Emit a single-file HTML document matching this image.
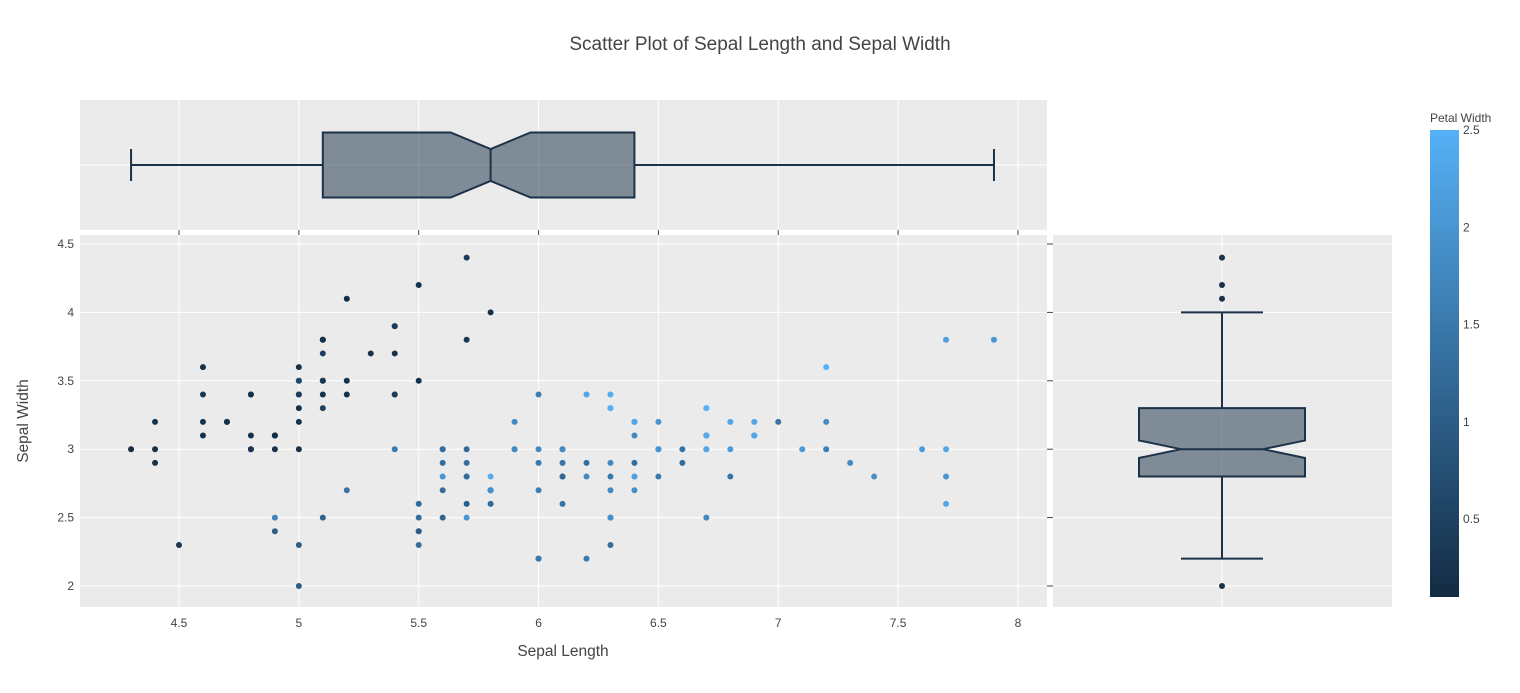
<!DOCTYPE html>
<html><head><meta charset="utf-8"><style>
body{margin:0;background:#fff;font-family:"Liberation Sans",sans-serif}
svg text{font-family:"Liberation Sans",sans-serif;fill:#444}
</style></head><body>
<svg id="c" width="1520" height="688" xmlns="http://www.w3.org/2000/svg">
<defs><linearGradient id="cg" x1="0" y1="1" x2="0" y2="0"><stop offset="0" stop-color="#132B43"/><stop offset="1" stop-color="#56B1F7"/></linearGradient></defs>
<text x="760" y="50" font-size="19" text-anchor="middle">Scatter Plot of Sepal Length and Sepal Width</text>
<g id="g"></g>
</svg>
<script>
const sepalLength=[5.1,4.9,4.7,4.6,5.0,5.4,4.6,5.0,4.4,4.9,5.4,4.8,4.8,4.3,5.8,5.7,5.4,5.1,5.7,5.1,5.4,5.1,4.6,5.1,4.8,5.0,5.0,5.2,5.2,4.7,4.8,5.4,5.2,5.5,4.9,5.0,5.5,4.9,4.4,5.1,5.0,4.5,4.4,5.0,5.1,4.8,5.1,4.6,5.3,5.0,
7.0,6.4,6.9,5.5,6.5,5.7,6.3,4.9,6.6,5.2,5.0,5.9,6.0,6.1,5.6,6.7,5.6,5.8,6.2,5.6,5.9,6.1,6.3,6.1,6.4,6.6,6.8,6.7,6.0,5.7,5.5,5.5,5.8,6.0,5.4,6.0,6.7,6.3,5.6,5.5,5.5,6.1,5.8,5.0,5.6,5.7,5.7,6.2,5.1,5.7,
6.3,5.8,7.1,6.3,6.5,7.6,4.9,7.3,6.7,7.2,6.5,6.4,6.8,5.7,5.8,6.4,6.5,7.7,7.7,6.0,6.9,5.6,7.7,6.3,6.7,7.2,6.2,6.1,6.4,7.2,7.4,7.9,6.4,6.3,6.1,7.7,6.3,6.4,6.0,6.9,6.7,6.9,5.8,6.8,6.7,6.7,6.3,6.5,6.2,5.9];
const sepalWidth=[3.5,3.0,3.2,3.1,3.6,3.9,3.4,3.4,2.9,3.1,3.7,3.4,3.0,3.0,4.0,4.4,3.9,3.5,3.8,3.8,3.4,3.7,3.6,3.3,3.4,3.0,3.4,3.5,3.4,3.2,3.1,3.4,4.1,4.2,3.1,3.2,3.5,3.1,3.0,3.4,3.5,2.3,3.2,3.5,3.8,3.0,3.8,3.2,3.7,3.3,
3.2,3.2,3.1,2.3,2.8,2.8,3.3,2.4,2.9,2.7,2.0,3.0,2.2,2.9,2.9,3.1,3.0,2.7,2.2,2.5,3.2,2.8,2.5,2.8,2.9,3.0,2.8,3.0,2.9,2.6,2.4,2.4,2.7,2.7,3.0,3.4,3.1,2.3,3.0,2.5,2.6,3.0,2.6,2.3,2.7,3.0,2.9,2.9,2.5,2.8,
3.3,2.7,3.0,2.9,3.0,3.0,2.5,2.9,2.5,3.6,3.2,2.7,3.0,2.5,2.8,3.2,3.0,3.8,2.6,2.2,3.2,2.8,2.8,2.7,3.3,3.2,2.8,3.0,2.8,3.0,2.8,3.8,2.8,2.8,2.6,3.0,3.4,3.1,3.0,3.1,3.1,3.1,2.7,3.2,3.3,3.0,2.5,3.0,3.4,3.0];
const petalWidth=[0.2,0.2,0.2,0.2,0.2,0.4,0.3,0.2,0.2,0.1,0.2,0.2,0.1,0.1,0.2,0.4,0.4,0.3,0.3,0.3,0.2,0.4,0.2,0.5,0.2,0.2,0.4,0.2,0.2,0.2,0.2,0.4,0.1,0.2,0.1,0.2,0.2,0.1,0.2,0.2,0.3,0.3,0.2,0.6,0.4,0.3,0.2,0.2,0.2,0.2,
1.4,1.5,1.5,1.3,1.5,1.3,1.6,1.0,1.3,1.4,1.0,1.5,1.0,1.4,1.3,1.4,1.5,1.0,1.5,1.1,1.8,1.3,1.5,1.2,1.3,1.4,1.4,1.7,1.5,1.0,1.1,1.0,1.2,1.6,1.5,1.6,1.5,1.3,1.3,1.3,1.2,1.4,1.2,1.0,1.3,1.2,1.3,1.3,1.1,1.3,
2.5,1.9,2.1,1.8,2.2,2.1,1.7,1.8,1.8,2.5,2.0,1.9,2.1,2.0,2.4,2.3,1.8,2.2,2.3,1.5,2.3,2.0,2.0,1.8,2.1,1.8,1.8,1.8,2.1,1.6,1.9,2.0,2.2,1.5,1.4,2.3,2.4,1.8,1.8,2.1,2.4,2.3,1.9,2.3,2.5,2.3,1.9,2.0,2.3,1.8];
const xTicks=[4.5,5,5.5,6,6.5,7,7.5,8];
const yTicks=[2,2.5,3,3.5,4,4.5];
const cTicks=[0.5,1,1.5,2,2.5];

const NS="http://www.w3.org/2000/svg",G=document.getElementById('g');
function el(t,a,name,p){const e=document.createElementNS(NS,t);for(const k in a)e.setAttribute(k,a[k]);


(p||G).appendChild(e);return e;}
const X=v=>179+(v-4.5)*239.7, Y=v=>586-(v-2)*136.8;
const cmin=0.1,cmax=2.5;
const CB=v=>597-(v-cmin)/(cmax-cmin)*467;
function col(v){const t=Math.max(0,Math.min(1,(v-cmin)/(cmax-cmin)));const a=[19,43,67],b=[86,177,247];return `rgb(${a.map((c,i)=>Math.round(c+(b[i]-c)*t)).join(',')})`;}
function q(a,p){const s=[...a].sort((x,y)=>x-y),n=s.length;const h=(n-1)*p,l=Math.floor(h);return s[l]+(s[Math.min(l+1,n-1)]-s[l])*(h-l);}
function stats(a){const s=[...a].sort((x,y)=>x-y),n=s.length;const q1=q(a,.25),m=q(a,.5),q3=q(a,.75),iqr=q3-q1;
const lo=s.find(v=>v>=q1-1.5*iqr),hi=[...s].reverse().find(v=>v<=q3+1.5*iqr);const nd=1.57*iqr/Math.sqrt(n);
return {q1,m,q3,lo,hi,nl:m-nd,nh:m+nd,out:s.filter(v=>v<lo||v>hi)};}
el('rect',{x:80,y:100,width:967,height:130,fill:'#EBEBEB'},'top-box-panel');
el('rect',{x:80,y:235,width:967,height:372,fill:'#EBEBEB'},'scatter-panel');
el('rect',{x:1053,y:235,width:339,height:372,fill:'#EBEBEB'},'right-box-panel');
xTicks.forEach(v=>{const x=X(v);
el('line',{x1:x,x2:x,y1:235,y2:607,stroke:'#fff','stroke-width':1},'x-gridline');
el('line',{x1:x,x2:x,y1:100,y2:230,stroke:'#fff','stroke-width':1},'top-x-gridline');
el('line',{x1:x,x2:x,y1:230,y2:235,stroke:'#444','stroke-width':1},'x-tick');
const t=el('text',{x:x,y:627,'font-size':12,'text-anchor':'middle'},'x-tick-label');t.textContent=v;});
yTicks.forEach(v=>{const y=Y(v);
el('line',{x1:80,x2:1047,y1:y,y2:y,stroke:'#fff'},'y-gridline');
el('line',{x1:1053,x2:1392,y1:y,y2:y,stroke:'#fff'},'right-y-gridline');
el('line',{x1:1047,x2:1053,y1:y,y2:y,stroke:'#444'},'y-tick');
const t=el('text',{x:74,y:y+4,'font-size':12,'text-anchor':'end'},'y-tick-label');t.textContent=v;});
el('line',{x1:80,x2:1047,y1:165,y2:165,stroke:'#fff'},'top-y-gridline');
el('line',{x1:1222,x2:1222,y1:235,y2:607,stroke:'#fff'},'right-x-gridline');
sepalLength.forEach((v,i)=>{el('circle',{cx:X(v),cy:Y(sepalWidth[i]),r:3,fill:col(petalWidth[i])},'scatter-point');});
(function(){const s=stats(sepalLength),c=165,h=32.5,nh=16,L='#1c3249';
el('path',{d:`M${X(s.q1)},${c-h}H${X(s.nl)}L${X(s.m)},${c-nh}L${X(s.nh)},${c-h}H${X(s.q3)}V${c+h}H${X(s.nh)}L${X(s.m)},${c+nh}L${X(s.nl)},${c+h}H${X(s.q1)}Z`,fill:'rgba(19,43,67,0.5)',stroke:L,'stroke-width':2},'sepal-length-box');
el('line',{x1:X(s.m),x2:X(s.m),y1:c-nh,y2:c+nh,stroke:L,'stroke-width':2},'sepal-length-median');
el('path',{d:`M${X(s.lo)},${c}H${X(s.q1)}M${X(s.q3)},${c}H${X(s.hi)}M${X(s.lo)},${c-16}V${c+16}M${X(s.hi)},${c-16}V${c+16}`,stroke:L,'stroke-width':2,fill:'none'},'sepal-length-whiskers');
s.out.forEach(v=>el('circle',{cx:X(v),cy:c,r:3,fill:L},'sepal-length-outlier'));})();
(function(){const s=stats(sepalWidth),c=1222,h=83,nh=41,L='#1c3249';
el('path',{d:`M${c-h},${Y(s.q1)}V${Y(s.nl)}L${c-nh},${Y(s.m)}L${c-h},${Y(s.nh)}V${Y(s.q3)}H${c+h}V${Y(s.nh)}L${c+nh},${Y(s.m)}L${c+h},${Y(s.nl)}V${Y(s.q1)}Z`,fill:'rgba(19,43,67,0.5)',stroke:L,'stroke-width':2},'sepal-width-box');
el('line',{x1:c-nh,x2:c+nh,y1:Y(s.m),y2:Y(s.m),stroke:L,'stroke-width':2},'sepal-width-median');
el('path',{d:`M${c},${Y(s.lo)}V${Y(s.q1)}M${c},${Y(s.q3)}V${Y(s.hi)}M${c-41},${Y(s.lo)}H${c+41}M${c-41},${Y(s.hi)}H${c+41}`,stroke:L,'stroke-width':2,fill:'none'},'sepal-width-whiskers');
s.out.forEach(v=>el('circle',{cx:c,cy:Y(v),r:3,fill:L},'sepal-width-outlier'));})();
el('rect',{x:1430,y:130,width:29,height:467,fill:'url(#cg)'},'colorbar');
cTicks.forEach(v=>{const t=el('text',{x:1463,y:CB(v)+4,'font-size':12},'colorbar-tick-label');t.textContent=v;});
let t=el('text',{x:1430,y:122,'font-size':12},'colorbar-title');t.textContent='Petal Width';
t=el('text',{x:563,y:656,'font-size':15.5,'text-anchor':'middle'},'x-axis-title');t.textContent='Sepal Length';
t=el('text',{x:28,y:421,'font-size':15.5,'text-anchor':'middle',transform:'rotate(-90 28 421)'},'y-axis-title');t.textContent='Sepal Width';
</script>
</body></html>
